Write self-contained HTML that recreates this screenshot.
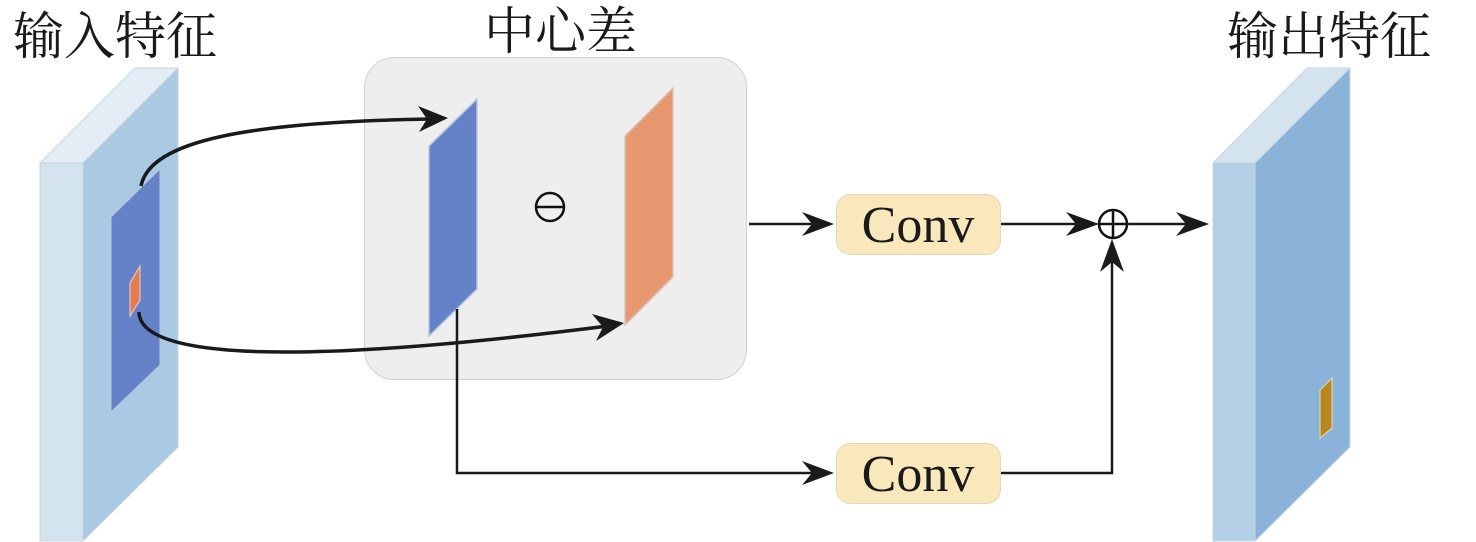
<!DOCTYPE html>
<html><head><meta charset="utf-8"><style>
html,body{margin:0;padding:0;background:#fff;width:1476px;height:542px;overflow:hidden}
svg{display:block}
text.t{font-family:"Liberation Serif","Noto Serif CJK SC",serif;font-size:51px;fill:#1a1a1a}
text.c{font-family:"Liberation Serif",serif;font-size:52px;fill:#1a1a1a}
</style></head><body>
<svg width="1476" height="542" viewBox="0 0 1476 542" xmlns="http://www.w3.org/2000/svg">
<text class="t" x="13" y="54">输入特征</text>
<text class="t" x="484" y="49">中心差</text>
<text class="t" x="1227" y="54">输出特征</text>

<!-- input block -->
<polygon points="40,163 83,163 178,68 135,68" fill="#e3edf5" stroke="#c9d4dc" stroke-width="1"/>
<polygon points="83,163 178,68 178,447 83,541" fill="#a9cae2" stroke="#c9d4dc" stroke-width="1"/>
<rect x="40" y="163" width="43" height="378" fill="#d4e4ef" stroke="#c9d4dc" stroke-width="1"/>
<polygon points="111,217 160,169 160,365 111,412" fill="#6581c7" stroke="#b9c6de" stroke-width="1"/>
<polygon points="130,283 140,266 140,300 130,316" fill="#e37c50" stroke="#f0d0c0" stroke-width="1"/>

<!-- center box -->
<rect x="364.5" y="57.5" width="382" height="322" rx="30" fill="#eeeeee" stroke="#d0d0d0" stroke-width="1"/>
<polygon points="429,146 477,99 477,289 429,336" fill="#6581c7" stroke="#b9c6de" stroke-width="1.5"/>
<polygon points="625,136 673,88 673,277 625,325" fill="#e79870" stroke="#d9c4bb" stroke-width="1.5"/>
<circle cx="550" cy="207" r="14" fill="none" stroke="#111" stroke-width="2.5"/>
<line x1="536" y1="207" x2="564" y2="207" stroke="#111" stroke-width="2.5"/>

<!-- curves -->
<path d="M141,186 C150,140 250,122 432,119" fill="none" stroke="#1a1a1a" stroke-width="3.5"/>
<polygon points="448,118 418,106 427,119 419,132" fill="#1a1a1a"/>
<path d="M139,312 C140,360 300,365 608,326" fill="none" stroke="#1a1a1a" stroke-width="3.5"/>
<polygon points="624,323 592,314 603,327 596,341" fill="#1a1a1a"/>

<!-- lower path -->
<polyline points="457,309 457,473 820,473" fill="none" stroke="#1a1a1a" stroke-width="2.5"/>
<polygon points="834,473 802,461 812,473 802,485" fill="#1a1a1a"/>

<!-- top row -->
<line x1="749" y1="224" x2="820" y2="224" stroke="#1a1a1a" stroke-width="2.5"/>
<polygon points="834,224 802,212 812,224 802,236" fill="#1a1a1a"/>
<rect x="836.5" y="194.5" width="164" height="60" rx="14" fill="#f9e8bb" stroke="#e3d8b8" stroke-width="1"/>
<text class="c" x="918" y="242" text-anchor="middle">Conv</text>
<rect x="836.5" y="443.5" width="164" height="60" rx="14" fill="#f9e8bb" stroke="#e3d8b8" stroke-width="1"/>
<text class="c" x="918" y="491" text-anchor="middle">Conv</text>

<line x1="1001" y1="224" x2="1085" y2="224" stroke="#1a1a1a" stroke-width="2.5"/>
<polygon points="1099,224 1066,212 1076,224 1066,236" fill="#1a1a1a"/>
<circle cx="1113" cy="224" r="14" fill="none" stroke="#111" stroke-width="2.5"/>
<line x1="1099" y1="224" x2="1127" y2="224" stroke="#111" stroke-width="2.5"/>
<line x1="1113" y1="210" x2="1113" y2="238" stroke="#111" stroke-width="2.5"/>
<line x1="1127" y1="224" x2="1195" y2="224" stroke="#1a1a1a" stroke-width="2.5"/>
<polygon points="1209,224 1176,212 1186,224 1176,236" fill="#1a1a1a"/>
<polyline points="1001,473 1112,473 1112,252" fill="none" stroke="#1a1a1a" stroke-width="2.5"/>
<polygon points="1112,239 1100,272 1112,262 1124,272" fill="#1a1a1a"/>

<!-- output block -->
<polygon points="1213,163 1255,163 1350,68 1307,68" fill="#d4e4ef" stroke="#c9d4dc" stroke-width="1"/>
<polygon points="1255,163 1350,68 1350,447 1255,541" fill="#8bb3d9" stroke="#c9d4dc" stroke-width="1"/>
<rect x="1213" y="163" width="42" height="378" fill="#b3cfe6" stroke="#c9d4dc" stroke-width="1"/>
<polygon points="1320,390 1332,378 1332,428 1320,438" fill="#b8871f" stroke="#e8dcb0" stroke-width="1"/>
</svg>
</body></html>
